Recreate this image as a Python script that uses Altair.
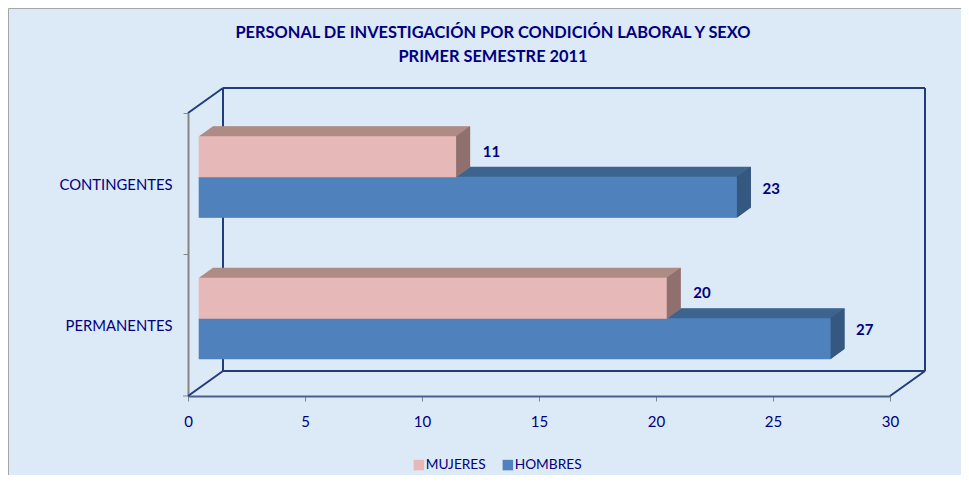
import altair as alt
import pandas as pd

categorias = ["CONTINGENTES", "PERMANENTES"]
mujeres = [11, 20]
hombres = [23, 27]
eje_x = [0, 5, 10, 15, 20, 25, 30]
titulo = ["PERSONAL DE INVESTIGACIÓN POR CONDICIÓN LABORAL Y SEXO", "PRIMER SEMESTRE 2011"]

NAVY = "#00007F"
WALL = "#1F3C7C"
GRAY = "#868686"
FONT = "Lato"
W, H = 702, 283
PL, PT, PR, PB = 180, 105, 71, 79

df_m = pd.DataFrame({"cat": categorias, "valor": mujeres, "cero": 0, "sexo": "MUJERES"})
df_h = pd.DataFrame({"cat": categorias, "valor": hombres, "cero": 0, "sexo": "HOMBRES"})

esc_x = alt.Scale(domain=[0, 30], nice=False, zero=True)
eje = alt.Axis(values=eje_x, title=None, grid=False, labelFont=FONT, labelFontSize=15,
               labelColor=NAVY, labelPadding=13, tickColor=GRAY, tickSize=5, labelFlush=False,
               labelOverlap=False, labelBound=False, domainColor="#4A5F8C", domainWidth=2, format="d")
xs = alt.X("valor:Q", scale=esc_x, stack=None, axis=eje)
x0 = alt.X("cero:Q", scale=esc_x, stack=None, axis=eje)
x1 = alt.X2("valor:Q")
ys = alt.Y("cat:N", sort=categorias, scale=alt.Scale(domain=categorias, paddingInner=0, paddingOuter=0),
           axis=alt.Axis(title=None, bandPosition=0, grid=False, labelFont=FONT, labelFontSize=14.8,
                         labelColor=NAVY, labelPadding=11, tickColor=GRAY, tickSize=5, labelOffset=2,
                         domainColor=GRAY, domainWidth=2))

BASE = 10.7
DX, DY = 14, 10
STEPS = 20
SIDE = "M0,-20.5 L14,-30.5 L14,10 L0,20.5 Z"


def barra(df, front, top, side, off):
    capas = []
    for i in range(STEPS, 0, -1):
        dx = BASE + DX * i / STEPS
        dy = off - DY * i / STEPS
        capas.append(alt.Chart(df).mark_bar(size=41, color=top, xOffset=dx, x2Offset=dx, yOffset=dy)
                     .encode(x=x0, x2=x1, y=ys))
    capas.append(alt.Chart(df).mark_point(shape=SIDE, size=4, filled=True, fill=side, opacity=1,
                                          strokeWidth=0, xOffset=BASE, yOffset=off)
                 .encode(x=xs, y=ys))
    capas.append(alt.Chart(df).mark_bar(size=41, xOffset=BASE, x2Offset=BASE, yOffset=off)
                 .encode(x=x0, x2=x1, y=ys,
                         color=alt.Color("sexo:N",
                                         scale=alt.Scale(domain=["MUJERES", "HOMBRES"], range=["#E6B8B7", "#4F81BD"]),
                                         legend=alt.Legend(orient="none", legendX=224, legendY=345,
                                                           direction="horizontal", title=None,
                                                           symbolType="square", symbolSize=110,
                                                           symbolStrokeWidth=0,
                                                           labelFont=FONT, labelFontSize=13.7, labelColor=NAVY,
                                                           columnPadding=15, labelOffset=0))))
    return capas


def etiqueta(df, dx, off):
    return alt.Chart(df).mark_text(font=FONT, fontSize=15, fontWeight="bold", color=NAVY,
                                   xOffset=dx, yOffset=off, baseline="middle", align="center"
                                   ).encode(x=xs, y=ys, text="valor:Q")


def linea(x, y, x2, y2, color=WALL, w=2):
    return alt.Chart(pd.DataFrame({"a": [0]})).mark_rule(color=color, strokeWidth=w).encode(
        x=alt.value(x), y=alt.value(y), x2=alt.value(x2), y2=alt.value(y2))


marco = alt.Chart(pd.DataFrame({"a": [0]})).mark_rect(fill=None, stroke="#A6A6A6", strokeWidth=1).encode(
    x=alt.value(-179.5), y=alt.value(-104.5), x2=alt.value(W + PR + 5), y2=alt.value(H + PB + 5))

paredes = [
    linea(35, -25, W + 35, -25), linea(W + 35, -25, W + 35, H - 25), linea(35, H - 25, W + 35, H - 25),
    linea(35, -25, 35, H - 25), linea(0, 0, 35, -25), linea(0, H, 35, H - 25), linea(W, H, W + 35, H - 25),
]
tick_final = linea(-5, H, 0, H, GRAY, 1)

capas = [marco] + paredes + [tick_final]
capas += barra(df_h, "#4F81BD", "#3F648F", "#355880", 13.5)
capas += barra(df_m, "#E6B8B7", "#AE8B85", "#8F706F", -27)
capas += [etiqueta(df_h, 45, 5), etiqueta(df_m, 46, -32)]

chart = alt.layer(*capas).properties(
    width=W, height=H,
    title=alt.TitleParams(text=titulo, anchor="middle", font=FONT, fontSize=16.4, fontWeight="bold",
                          color=NAVY, lineHeight=24, dx=-46, dy=57, offset=0, frame="group"),
    padding={"left": PL, "top": PT, "right": PR, "bottom": PB},
    autosize=alt.AutoSizeParams(type="none"),
    background="#DCE9F6",
).configure_view(stroke=None)

chart.save("out.html", embed_options={"renderer": "svg", "actions": False})
